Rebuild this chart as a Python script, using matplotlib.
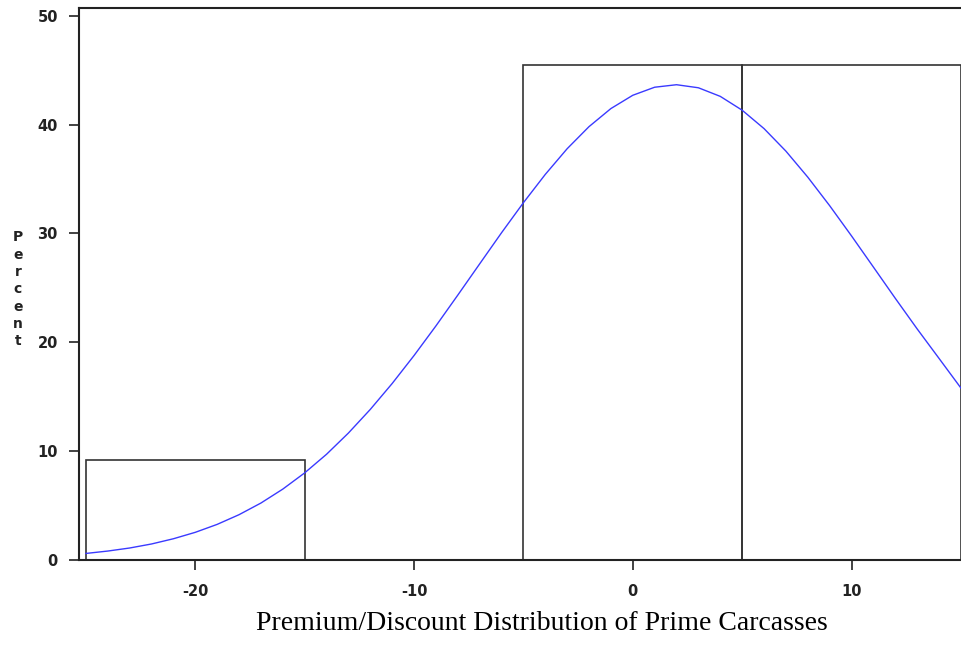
import matplotlib
matplotlib.use("Agg")
import matplotlib.pyplot as plt

# Histogram bins (left edges, width) and heights (percent)
bin_lefts = [-25, -5, 5]
bin_width = 10
bin_heights = [9.16, 45.47, 45.47]

# Fitted curve
curve_x = list(range(-25, 16))
curve_y = [0.60, 0.82, 1.10, 1.47, 1.95, 2.54, 3.27, 4.16, 5.23, 6.51,
           8.00, 9.71, 11.66, 13.83, 16.21, 18.78, 21.50, 24.33, 27.20, 30.06,
           32.82, 35.42, 37.78, 39.81, 41.47, 42.69, 43.43, 43.66, 43.38, 42.59,
           41.32, 39.63, 37.56, 35.17, 32.55, 29.77, 26.91, 24.04, 21.23, 18.52,
           15.80]

xticks = [-20, -10, 0, 10]
yticks = [0, 10, 20, 30, 40, 50]

fig = plt.figure(figsize=(9.62, 6.47), dpi=100)
ax = fig.add_axes([0.0818, 0.1345, 0.9175, 0.853])

ax.bar(bin_lefts, bin_heights, width=bin_width, align='edge',
       facecolor='none', edgecolor='#333333', linewidth=1.2, zorder=2)
ax.plot(curve_x, curve_y, color='#3a3aff', linewidth=1.0, zorder=3)

ax.set_xlim(-25.33, 15.02)
ax.set_ylim(0, 50.7)
ax.set_xticks(xticks)
ax.set_yticks(yticks)
ax.set_xticklabels([str(t) for t in xticks], fontsize=10.5, fontweight='bold')
ax.set_yticklabels([str(t) for t in yticks], fontsize=10.5, fontweight='bold')
ax.tick_params(direction='out', length=7, width=1.2, pad=8, colors='#222222')
ax.tick_params(axis='x', pad=10)
for s in ['left', 'bottom', 'top']:
    ax.spines[s].set_linewidth(1.5)
    ax.spines[s].set_color('#222222')
ax.spines['right'].set_visible(False)

fig.text(0.0187, 0.553, "P\ne\nr\nc\ne\nn\nt", ha='center', va='center',
         fontsize=10, fontweight='bold', linespacing=1.3, color='#222222')
fig.text(0.563, 0.037, "Premium/Discount Distribution of Prime Carcasses",
         ha='center', va='center', fontsize=20, family='Liberation Serif')

fig.savefig("out.png", dpi=100)
